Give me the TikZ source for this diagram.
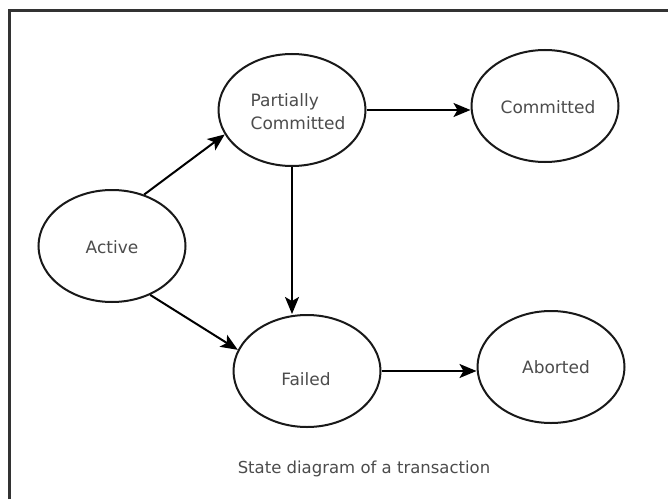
\documentclass[tikz,border=0pt]{standalone}
\usepackage{fontspec}
\setmainfont{DejaVu Sans}
\usetikzlibrary{shapes.geometric,arrows.meta}
\begin{document}
\begin{tikzpicture}[x=1pt,y=1pt,
  state/.style={ellipse,draw=black!90,line width=2pt,inner sep=0pt,minimum width=147pt,minimum height=112pt},
  lbl/.style={text=black!70,font=\fontsize{17}{23}\selectfont,align=center},
  arr/.style={line width=2pt,-{Stealth[length=17pt,width=14pt,inset=4pt]}}]
\useasboundingbox (0,0) rectangle (668,499);
\fill[white] (0,0) rectangle (668,499);
\draw[line width=3pt,black!80] (9,0) -- (9,488) -- (668,488);
% states (y = 499 - pixel y)
\node[state] (a) at (112,253) {};
\node[lbl] at (112,252) {Active};
\node[state] (pc) at (292,389) {};
\node[lbl,align=left] at (298,387) {Partially\\Committed};
\node[state] (c) at (545,393) {};
\node[lbl] at (548,392) {Committed};
\node[state] (f) at (307,128) {};
\node[lbl] at (306,120) {Failed};
\node[state] (ab) at (551,132) {};
\node[lbl] at (556,132) {Aborted};
\node[text=black!70,font=\fontsize{16.5}{20}\selectfont] (cap) at (364,30) {State diagram of a transaction};
% transitions
\draw[arr] (a.58) -- (pc.200);
\draw[arr] (a.308) -- (f.163);
\draw[arr] (pc.south) -- (pc.south |- f.north);
\draw[arr] (pc.east) -- (c.west |- pc.east);
\draw[arr] (f.east) -- (ab.west |- f.east);
\end{tikzpicture}
\end{document}
